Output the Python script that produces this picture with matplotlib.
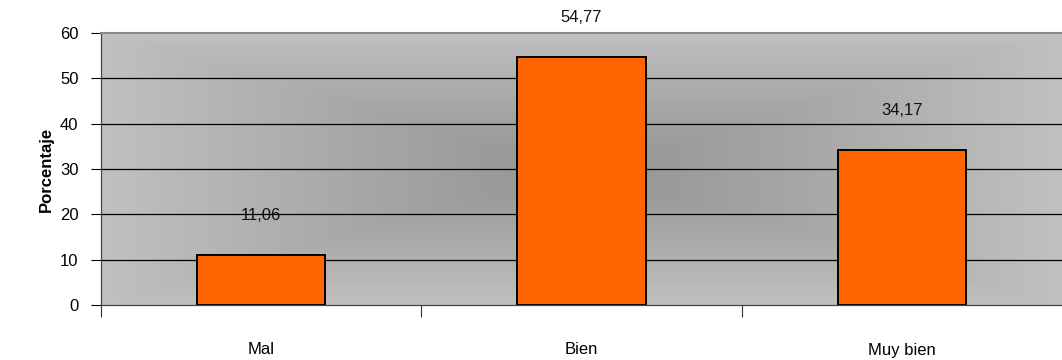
import numpy as np
import matplotlib
matplotlib.use("Agg")
import matplotlib.pyplot as plt

plt.rcParams['font.family'] = ['Liberation Sans', 'DejaVu Sans']

categories = ["Mal", "Bien", "Muy bien"]
values = [11.06, 54.77, 34.17]
value_labels = ["11,06", "54,77", "34,17"]
yticks = [0, 10, 20, 30, 40, 50, 60]

fig = plt.figure(figsize=(10.62, 3.6), dpi=100)
ax = fig.add_axes([101/1062, 55/360, 961/1062, 272/360])

# rectangular "from center" gray gradient background
nx, ny = 400, 200
gx = np.linspace(-1, 1, nx)
gy = np.linspace(-1, 1, ny)
X, Y = np.meshgrid(gx, gy)
d = np.clip(np.maximum(np.abs(X), np.abs(Y)), 0, 1)
c_center, c_edge = 0.58, 0.755
g = c_center + (c_edge - c_center) * d ** 1.1
img = np.dstack([g, g, g])
ax.imshow(img, extent=[-0.5, 2.5, 0, 60], aspect='auto', zorder=0, interpolation='bilinear')

x = np.arange(len(categories))
ax.set_xlim(-0.5, 2.5)
ax.set_ylim(0, 60)

for yv in yticks[1:-1]:
    ax.axhline(yv, color='black', lw=0.9, zorder=1)

ax.bar(x, values, width=0.4, color='#FF6600', edgecolor='black', linewidth=1.4, zorder=2)

for xi, v, lab in zip(x, values, value_labels):
    ax.annotate(lab, (xi, v), xytext=(0, 28.5), textcoords='offset points',
                ha='center', va='center', fontsize=12, color='#111111')

ax.set_yticks(yticks)
ax.set_yticklabels([str(t) for t in yticks], fontsize=12)
ax.tick_params(axis='y', direction='out', length=7.2, width=0.8, pad=9, colors='black')

ax.set_xticks([-0.5, 0.5, 1.5])
ax.set_xticklabels([])
ax.tick_params(axis='x', which='major', direction='out', length=8.6, width=0.8, color='#333333')
ax.set_xticks(x, minor=True)
ax.set_xticklabels(categories, minor=True, fontsize=12)
ax.tick_params(axis='x', which='minor', length=0, pad=27)

ax.set_ylabel("Porcentaje", fontsize=12, fontweight='bold', labelpad=4)

ax.spines['right'].set_visible(False)
ax.spines['top'].set_color('#8a8a8a')
ax.spines['top'].set_linewidth(1.5)
ax.spines['left'].set_color('#444444')
ax.spines['left'].set_linewidth(0.9)
ax.spines['bottom'].set_color('#444444')
ax.spines['bottom'].set_linewidth(0.9)
ax.spines['bottom'].set_zorder(3)

fig.savefig("out.png", dpi=100)
